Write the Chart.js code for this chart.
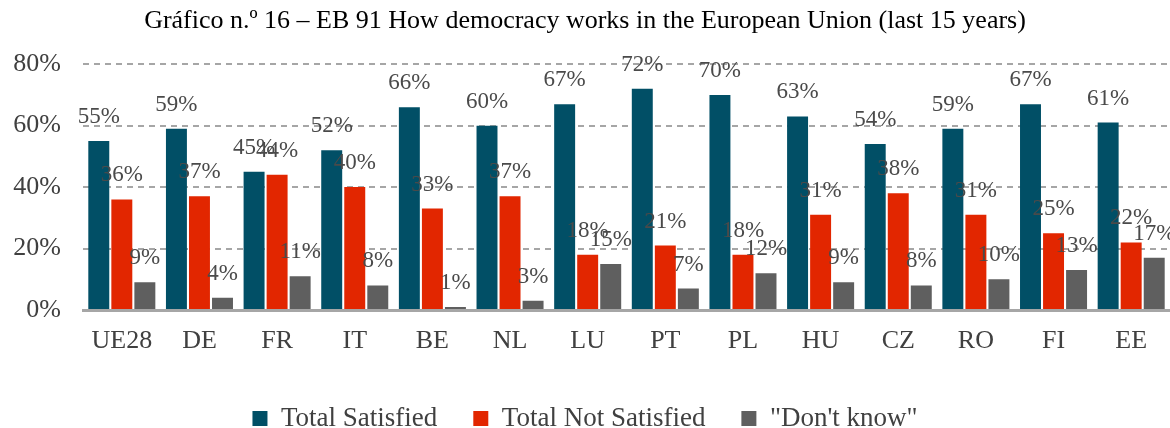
<!DOCTYPE html>
<html>
<head>
<meta charset="utf-8">
<script src="https://cdn.jsdelivr.net/npm/chart.js@4/dist/chart.umd.min.js"></script>
<style>
html,body{margin:0;padding:0;background:#fff;}
#wrap{width:1170px;height:428px;position:relative;}
</style>
</head>
<body>
<div id="wrap"><canvas id="c" width="1170" height="428"></canvas></div>
<script>
const titleText = "Gráfico n.º 16 – EB 91 How democracy works in the European Union (last 15 years)";
const categories = ["UE28","DE","FR","IT","BE","NL","LU","PT","PL","HU","CZ","RO","FI","EE"];
const satisfied = [55,59,45,52,66,60,67,72,70,63,54,59,67,61];
const notSatisfied = [36,37,44,40,33,37,18,21,18,31,38,31,25,22];
const dontKnow = [9,4,11,8,1,3,15,7,12,9,8,10,13,17];
const seriesNames = ["Total Satisfied","Total Not Satisfied","\"Don't know\""];
const seriesColors = ["#014f66","#e22600","#5f5f5f"];
const yTicks = [0,20,40,60,80];

const FONT = "'Liberation Serif', 'Times New Roman', serif";

const labelPlugin = {
  id: 'valueLabels',
  afterDatasetsDraw(chart) {
    const ctx = chart.ctx;
    ctx.save();
    ctx.font = "23px " + FONT;
    ctx.fillStyle = "#4a4a4a";
    ctx.textAlign = "center";
    ctx.textBaseline = "middle";
    chart.data.datasets.forEach((ds, i) => {
      const meta = chart.getDatasetMeta(i);
      meta.data.forEach((el, j) => {
        ctx.fillText(ds.data[j] + "%", el.x, el.y - 24);
      });
    });
    ctx.restore();
  }
};

Chart.defaults.font.family = FONT;

new Chart(document.getElementById('c'), {
  type: 'bar',
  data: {
    labels: categories,
    datasets: [
      {label: seriesNames[0], data: satisfied, backgroundColor: seriesColors[0]},
      {label: seriesNames[1], data: notSatisfied, backgroundColor: seriesColors[1]},
      {label: seriesNames[2], data: dontKnow, backgroundColor: seriesColors[2]}
    ]
  },
  options: {
    responsive: false,
    animation: false,
    devicePixelRatio: 1,
    layout: {padding: {left: 0, right: 0, top: 0, bottom: -14}},
    datasets: {bar: {categoryPercentage: 0.89, barPercentage: 0.91}},
    plugins: {
      title: {
        display: true,
        text: titleText,
        color: "#000",
        font: {size: 26, family: FONT, weight: 'normal'},
        padding: {top: 6, bottom: 27}
      },
      legend: {
        position: 'bottom',
        labels: {
          boxWidth: 15, boxHeight: 15,
          color: "#404040",
          font: {size: 27, family: FONT},
          padding: 36
        }
      },
      tooltip: {enabled: false}
    },
    scales: {
      x: {
        grid: {display: false},
        border: {display: true, color: "#a6a6a6", width: 3},
        ticks: {color: "#404040", font: {size: 26, family: FONT}, padding: 8},
        afterFit: (s) => { s.height = 59; }
      },
      y: {
        min: 0, max: 80,
        afterBuildTicks: (scale) => { scale.ticks = yTicks.map(v => ({value: v})); },
        afterFit: (s) => { s.width = 83; },
        grid: {color: "#a6a6a6", lineWidth: 2, drawTicks: false},
        border: {display: false, dash: [6,5]},
        ticks: {color: "#404040", font: {size: 26, family: FONT}, padding: 22, callback: v => v + "%"}
      }
    }
  },
  plugins: [labelPlugin]
});
</script>
</body>
</html>
